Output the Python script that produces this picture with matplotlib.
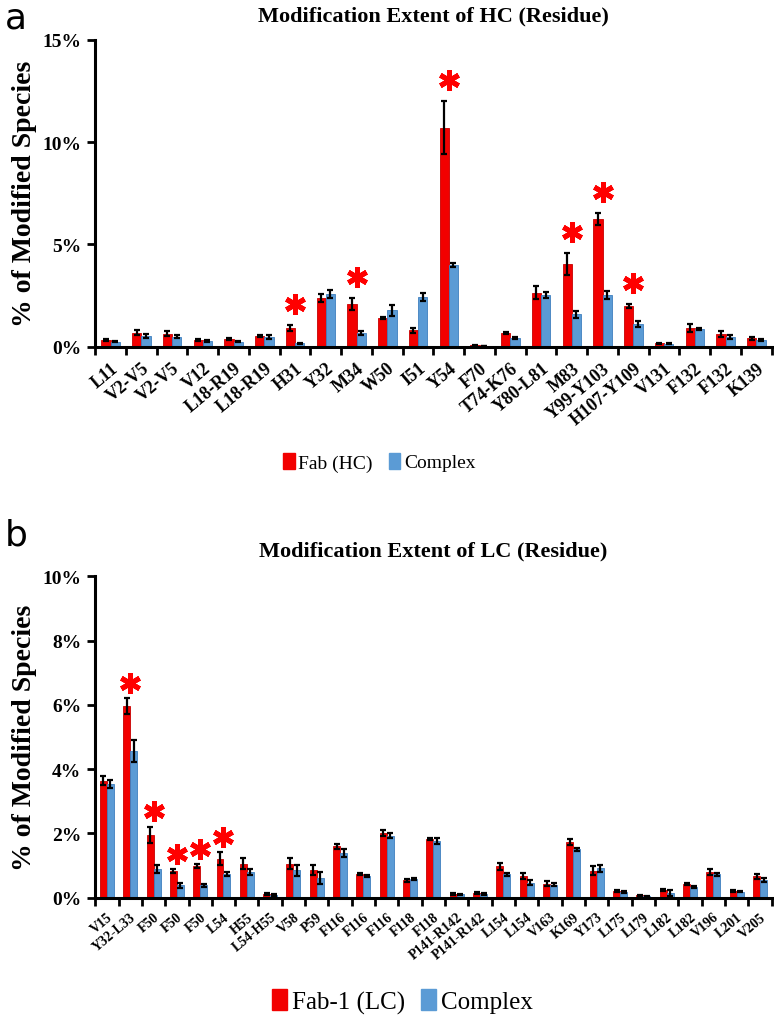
import numpy as np
import matplotlib
matplotlib.use("Agg")
import matplotlib.pyplot as plt
from matplotlib.ticker import FuncFormatter
from matplotlib.transforms import offset_copy

plt.rcParams['font.family'] = ['Liberation Serif', 'DejaVu Serif']

# ---- panel a: heavy chain ----
hc_labels = ['L11', 'V2-V5', 'V2-V5', 'V12', 'L18-R19', 'L18-R19', 'H31', 'Y32', 'M34', 'W50', 'I51',
             'Y54', 'F70', 'T74-K76', 'Y80-L81', 'M83', 'Y99-Y103', 'H107-Y109', 'V131', 'F132', 'F132', 'K139']
hc_fab = [0.33, 0.68, 0.65, 0.32, 0.37, 0.53, 0.90, 2.40, 2.08, 1.41, 0.80,
          10.7, 0.08, 0.68, 2.65, 4.05, 6.25, 2.00, 0.17, 0.90, 0.62, 0.42]
hc_fab_err = [0.05, 0.12, 0.10, 0.05, 0.05, 0.06, 0.15, 0.20, 0.30, 0.05, 0.12,
              1.30, 0.02, 0.05, 0.30, 0.55, 0.30, 0.10, 0.03, 0.20, 0.15, 0.07]
hc_cpx = [0.25, 0.55, 0.50, 0.28, 0.25, 0.48, 0.17, 2.57, 0.68, 1.78, 2.45,
          3.98, 0.02, 0.45, 2.52, 1.58, 2.52, 1.12, 0.15, 0.87, 0.50, 0.35]
hc_cpx_err = [0.03, 0.10, 0.08, 0.04, 0.03, 0.10, 0.03, 0.20, 0.08, 0.25, 0.20,
              0.10, 0.00, 0.05, 0.15, 0.15, 0.20, 0.15, 0.03, 0.05, 0.10, 0.05]
hc_stars = ['H31', 'M34', 'Y54', 'M83', 'Y99-Y103', 'H107-Y109']

# ---- panel b: light chain ----
lc_labels = ['V15', 'Y32-L33', 'F50', 'F50', 'F50', 'L54', 'H55', 'L54-H55', 'V58', 'P59', 'F116', 'F116',
             'F116', 'F118', 'F118', 'P141-R142', 'P141-R142', 'L154', 'L154', 'V163', 'K169', 'Y173',
             'L175', 'L179', 'L182', 'L182', 'V196', 'L201', 'V205']
lc_fab = [3.64, 5.95, 1.96, 0.83, 0.99, 1.21, 1.06, 0.12, 1.06, 0.86, 1.60, 0.73,
          2.01, 0.54, 1.83, 0.11, 0.13, 0.97, 0.67, 0.43, 1.73, 0.84,
          0.20, 0.07, 0.24, 0.43, 0.80, 0.22, 0.67]
lc_fab_err = [0.15, 0.25, 0.25, 0.05, 0.06, 0.20, 0.17, 0.03, 0.18, 0.15, 0.08, 0.04,
              0.10, 0.04, 0.04, 0.03, 0.03, 0.10, 0.10, 0.08, 0.08, 0.15,
              0.03, 0.02, 0.03, 0.03, 0.10, 0.03, 0.08]
lc_cpx = [3.53, 4.57, 0.90, 0.38, 0.38, 0.73, 0.80, 0.08, 0.85, 0.61, 1.39, 0.66,
          1.93, 0.59, 1.77, 0.10, 0.11, 0.72, 0.47, 0.40, 1.50, 0.91,
          0.18, 0.04, 0.15, 0.34, 0.72, 0.19, 0.54]
lc_cpx_err = [0.12, 0.35, 0.12, 0.07, 0.05, 0.07, 0.10, 0.03, 0.18, 0.20, 0.12, 0.03,
              0.07, 0.03, 0.10, 0.02, 0.03, 0.06, 0.07, 0.05, 0.05, 0.10,
              0.03, 0.01, 0.10, 0.03, 0.06, 0.03, 0.06]
lc_star_idx = [1, 2, 3, 4, 5]

red = '#f20000'
blue = '#5b9bd5'
w = 0.3


def draw(ax, labels, fab, fab_err, cpx, cpx_err, star_idx, ymax, ystep, xfs, star_off):
    n = len(labels)
    x = np.arange(n)
    ek = dict(ecolor='black', elinewidth=1.6, capsize=2.5, capthick=1.6)
    ax.bar(x - w / 2, fab, w, color=red, edgecolor='#c80000', linewidth=0.6, yerr=fab_err, error_kw=ek)
    ax.bar(x + w / 2, cpx, w, color=blue, edgecolor='#3f7fbf', linewidth=0.6, yerr=cpx_err, error_kw=ek)
    tr = offset_copy(ax.transData, fig=ax.figure, y=star_off, units='points')
    for i in star_idx:
        ax.plot([x[i]], [fab[i] + fab_err[i]], transform=tr, marker=(6, 2, 0), markersize=15,
                markeredgewidth=3.6, color='red', linestyle='none', clip_on=False)
    ax.set_xlim(-0.5, n - 0.5)
    ax.set_ylim(0, ymax)
    ax.set_yticks(np.arange(0, ymax + 0.01, ystep))
    ax.yaxis.set_major_formatter(FuncFormatter(lambda v, p: '%d%%' % round(v)))
    ax.set_xticks(x)
    ax.set_xticklabels(labels, rotation=40, ha='right', rotation_mode='anchor',
                       fontsize=xfs, fontweight='bold')
    ax.set_xticks(np.arange(n + 1) - 0.5, minor=True)
    ax.tick_params(axis='x', which='major', length=0, pad=9)
    ax.tick_params(axis='x', which='minor', length=6, width=2, direction='out')
    ax.tick_params(axis='y', length=6, width=2, labelsize=14, pad=4)
    for t in ax.get_yticklabels():
        t.set_fontweight('bold')
    for s in ['top', 'right']:
        ax.spines[s].set_visible(False)
    for s in ['left', 'bottom']:
        ax.spines[s].set_linewidth(2.2)
    ax.set_ylabel('% of Modified Species', fontsize=20, fontweight='bold', labelpad=4)


fig = plt.figure(figsize=(7.74, 10.2), dpi=100)

ax1 = fig.add_axes([0.123, 0.659, 0.874, 0.301])
hc_star_idx = [hc_labels.index(s) for s in hc_stars]
draw(ax1, hc_labels, hc_fab, hc_fab_err, hc_cpx, hc_cpx_err, hc_star_idx, 15, 5, 13, 15)
ax1.set_title('Modification Extent of HC (Residue)', fontsize=16, fontweight='bold', pad=14)
h1 = [plt.Rectangle((0, 0), 1, 1, color=red), plt.Rectangle((0, 0), 1, 1, color=blue)]
fig.legend(h1, ['Fab (HC)', 'Complex'], loc='center', bbox_to_anchor=(0.49, 0.546), ncol=2,
           frameon=False, fontsize=14, handlelength=0.6, handleheight=0.9, handletextpad=0.2,
           columnspacing=0.8)
fig.text(0.006, 0.999, 'a', fontsize=26, va='top', ha='left', fontfamily='DejaVu Sans')

ax2 = fig.add_axes([0.123, 0.119, 0.874, 0.315])
draw(ax2, lc_labels, lc_fab, lc_fab_err, lc_cpx, lc_cpx_err, lc_star_idx, 10, 2, 10, 11)
ax2.set_title('Modification Extent of LC (Residue)', fontsize=16, fontweight='bold', pad=15)
fig.legend(h1, ['Fab-1 (LC)', 'Complex'], loc='center', bbox_to_anchor=(0.52, 0.017), ncol=2,
           frameon=False, fontsize=18, handlelength=0.6, handleheight=0.9, handletextpad=0.2,
           columnspacing=0.6)
fig.text(0.006, 0.492, 'b', fontsize=26, va='top', ha='left', fontfamily='DejaVu Sans')

fig.savefig('out.png', dpi=100)
